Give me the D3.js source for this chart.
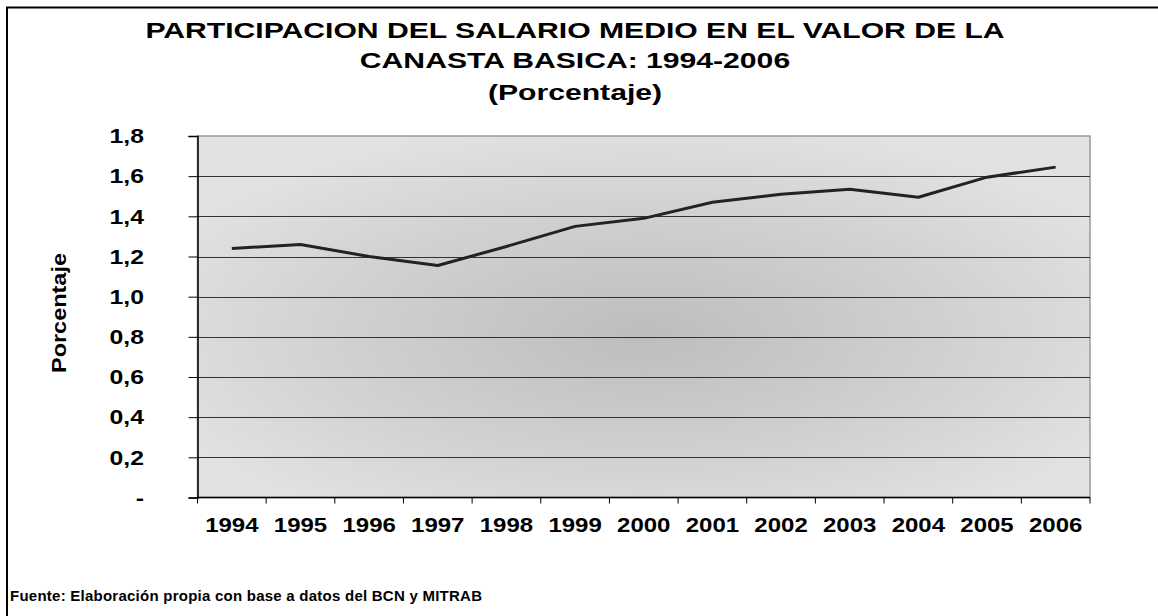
<!DOCTYPE html>
<html>
<style>
body { margin: 0; background: #fff; }
text { font-family: "Liberation Sans", Arial, sans-serif; font-weight: bold; fill: #000; }
</style>
<body>
<script src="https://d3js.org/d3.v7.min.js"></script>
<script>
var years = ["1994","1995","1996","1997","1998","1999","2000","2001","2002","2003","2004","2005","2006"];
var values = [1.24, 1.26, 1.20, 1.155, 1.25, 1.35, 1.39, 1.47, 1.51, 1.535, 1.495, 1.595, 1.645];
var yTicks = [0, 0.2, 0.4, 0.6, 0.8, 1.0, 1.2, 1.4, 1.6, 1.8];
var titleLines = ["PARTICIPACION DEL SALARIO MEDIO EN EL VALOR DE LA", "CANASTA BASICA: 1994-2006", "(Porcentaje)"];

var W = 1158, H = 616;
var plotLeft = 197.5, plotRight = 1090, plotTop = 136, plotBottom = 497.5;

var svg = d3.select("body").append("svg")
  .attr("width", W)
  .attr("height", H);

var defs = svg.append("defs");
var grad = defs.append("radialGradient")
  .attr("id", "bg")
  .attr("cx", "0.5").attr("cy", "0.55").attr("r", "0.6");
grad.append("stop").attr("offset", "0").attr("stop-color", "#bdbdbd");
grad.append("stop").attr("offset", "0.6").attr("stop-color", "#d2d2d2");
grad.append("stop").attr("offset", "1").attr("stop-color", "#e2e2e2");

// outer frame (runs off the right and bottom edges)
svg.append("rect")
  .attr("x", 7).attr("y", 7.5)
  .attr("width", 1300).attr("height", 800)
  .attr("fill", "none")
  .attr("stroke", "#000")
  .attr("stroke-width", 2);

var x = d3.scaleBand().domain(years).range([plotLeft, plotRight]).padding(0);
var y = d3.scaleLinear().domain([0, 1.8]).range([plotBottom, plotTop]);

// plot area
svg.append("rect")
  .attr("x", plotLeft).attr("y", plotTop)
  .attr("width", plotRight - plotLeft).attr("height", plotBottom - plotTop)
  .attr("fill", "url(#bg)")
  .attr("stroke", "#999")
  .attr("stroke-width", 1.5);

// gridlines
svg.append("g").selectAll("line")
  .data(yTicks.filter(function(d) { return d > 0 && d < 1.8; }))
  .enter().append("line")
  .attr("x1", plotLeft).attr("x2", plotRight)
  .attr("y1", function(d) { return Math.round(y(d)) + 0.5; })
  .attr("y2", function(d) { return Math.round(y(d)) + 0.5; })
  .attr("stroke", "#333")
  .attr("stroke-width", 1);

// y axis (line + ticks), labels drawn separately so they can be widened
var yAxis = d3.axisLeft(y)
  .tickValues(yTicks)
  .tickSize(9)
  .tickFormat("");

var gy = svg.append("g")
  .attr("transform", "translate(" + plotLeft + ",0)")
  .call(yAxis);
gy.select(".domain").attr("stroke", "#000").attr("stroke-width", 1.5);
gy.selectAll(".tick line").attr("stroke", "#000");

var fmt = function(d) { return d === 0 ? "-" : d3.format(".1f")(d).replace(".", ","); };
svg.append("g").selectAll("text")
  .data(yTicks)
  .enter().append("text")
  .attr("transform", function(d) { return "translate(144," + y(d) + ") scale(1.24,1)"; })
  .attr("dy", "0.36em")
  .attr("text-anchor", "end")
  .attr("font-size", 20)
  .text(fmt);

// x axis line and ticks at category boundaries
svg.append("line")
  .attr("x1", plotLeft).attr("x2", plotRight)
  .attr("y1", plotBottom).attr("y2", plotBottom)
  .attr("stroke", "#000").attr("stroke-width", 1.5);

var bounds = years.map(function(d) { return x(d); }).concat([plotRight]);
svg.append("g").selectAll("line")
  .data(bounds)
  .enter().append("line")
  .attr("x1", function(d) { return d; }).attr("x2", function(d) { return d; })
  .attr("y1", plotBottom).attr("y2", plotBottom + 6)
  .attr("stroke", "#000");

svg.append("g").selectAll("text")
  .data(years)
  .enter().append("text")
  .attr("transform", function(d) { return "translate(" + (x(d) + x.bandwidth() / 2) + ",532) scale(1.2,1)"; })
  .attr("text-anchor", "middle")
  .attr("font-size", 20)
  .text(function(d) { return d; });

// line
var line = d3.line()
  .x(function(d, i) { return x(years[i]) + x.bandwidth() / 2; })
  .y(function(d) { return y(d); });

svg.append("path")
  .datum(values)
  .attr("d", line)
  .attr("fill", "none")
  .attr("stroke", "#222")
  .attr("stroke-width", 3)
  .attr("stroke-linejoin", "round");

// title
var titleY = [37.5, 67.5, 100];
svg.append("g").selectAll("text")
  .data(titleLines)
  .enter().append("text")
  .attr("transform", function(d, i) { return "translate(575," + titleY[i] + ") scale(1.37,1)"; })
  .attr("text-anchor", "middle")
  .attr("font-size", 22)
  .text(function(d) { return d; });

// y axis title
svg.append("text")
  .attr("transform", "translate(66,313) rotate(-90)")
  .attr("text-anchor", "middle")
  .attr("font-size", 21)
  .attr("textLength", 120)
  .attr("lengthAdjust", "spacingAndGlyphs")
  .text("Porcentaje");

// footer
svg.append("text")
  .attr("x", 10)
  .attr("y", 600.5)
  .attr("font-size", 15)
  .attr("textLength", 472)
  .attr("lengthAdjust", "spacing")
  .text("Fuente: Elaboración propia con base a datos del BCN y MITRAB");
</script>
</body>
</html>
